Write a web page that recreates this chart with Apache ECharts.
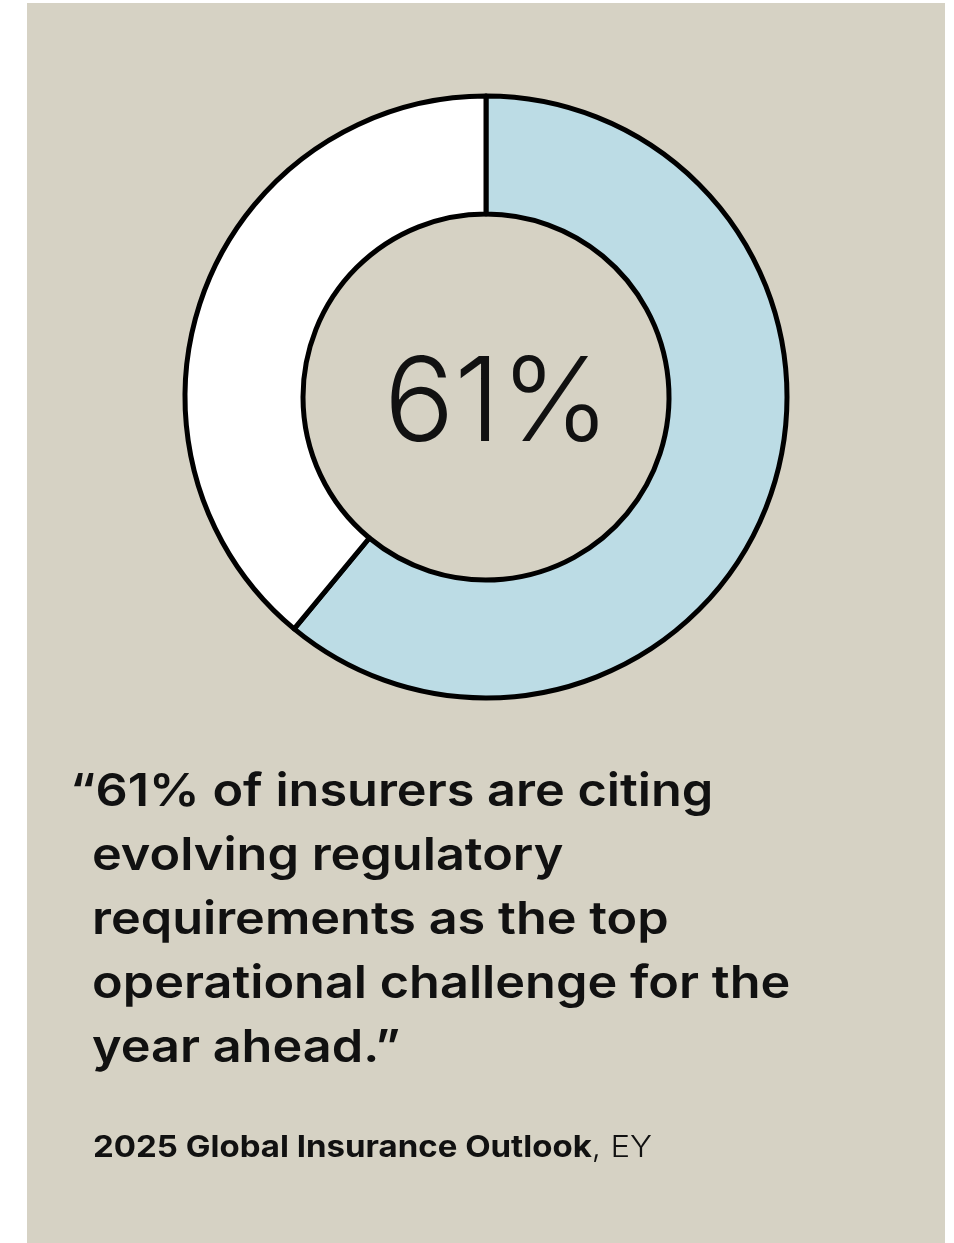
<!DOCTYPE html>
<html>
<head>
<meta charset="utf-8">
<script src="https://cdn.jsdelivr.net/npm/echarts@6/dist/echarts.min.js"></script>
<style>
html,body{margin:0;padding:0;background:#fff;}
#chart{width:954px;height:1243px;}
</style>
</head>
<body>
<div id="chart"></div>
<script>
const categories = ['Evolving regulatory requirements', 'Other'];
const values = [61, 39];
const quoteLines = [
  '\u201C61% of insurers are citing',
  'evolving regulatory',
  'requirements as the top',
  'operational challenge for the',
  'year ahead.\u201D'
];
const sourceBold = '2025 Global Insurance Outlook';
const sourceRest = ', EY';

const total = values.reduce((a, b) => a + b, 0);
const pct = Math.round(values[0] / total * 100) + '%';

const chart = echarts.init(document.getElementById('chart'), null, {renderer: 'canvas'});
const FONT = 'Inter, "Open Sans", sans-serif';

const graphics = [
  {type: 'rect', z: -10, shape: {x: 27, y: 3, width: 918, height: 1240}, style: {fill: '#d6d2c4'}}
];
quoteLines.forEach((t, i) => {
  graphics.push({
    type: 'text', x: i === 0 ? 70 : 92, y: 792 + i * 64, scaleX: 1.12,
    style: {text: t, fill: '#111', font: '600 45px ' + FONT, verticalAlign: 'middle', align: 'left'}
  });
});
graphics.push({
  type: 'text', x: 93, y: 1148, scaleX: 1.1,
  style: {
    text: '{b|' + sourceBold + '}{r|' + sourceRest + '}',
    verticalAlign: 'middle',
    rich: {
      b: {fontFamily: FONT, fontWeight: 700, fontSize: 30, fill: '#111', color: '#111'},
      r: {fontFamily: FONT, fontWeight: 300, fontSize: 30, fill: '#111', color: '#111'}
    }
  }
});

chart.setOption({
  backgroundColor: '#ffffff',
  animation: false,
  graphic: graphics,
  title: {
    text: pct,
    left: 492, top: 401,
    textAlign: 'center', textVerticalAlign: 'middle',
    textStyle: {fontFamily: FONT, fontWeight: 300, fontSize: 117, color: '#111'}
  },
  series: [{
    type: 'pie',
    center: [486, 397],
    radius: [183, 301],
    startAngle: 90,
    clockwise: true,
    silent: true,
    label: {show: false},
    labelLine: {show: false},
    itemStyle: {borderColor: '#000', borderWidth: 5},
    data: categories.map((c, i) => ({
      name: c, value: values[i],
      itemStyle: {color: i === 0 ? '#bcdce5' : '#ffffff'}
    }))
  }]
});
</script>
</body>
</html>
